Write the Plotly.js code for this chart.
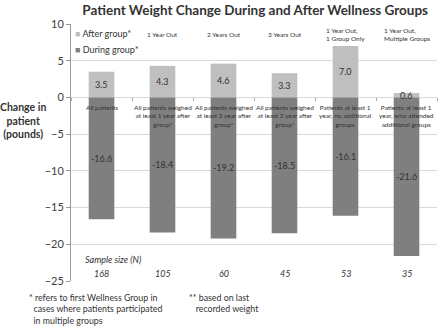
<!DOCTYPE html>
<html>
<head>
<meta charset="utf-8">
<script src="https://cdn.plot.ly/plotly-3.0.1.min.js"></script>
<style>html,body{margin:0;padding:0;background:#fff;}#chart{width:440px;height:326px;}</style>
</head>
<body>
<div id="chart"></div>
<script>
var categories = ["All patients", "1 year", "2 years", "3 years", "1 group only", "multiple groups"];
var afterGroup = [3.5, 4.3, 4.6, 3.3, 7.0, 0.6];
var duringGroup = [-16.6, -18.4, -19.2, -18.5, -16.1, -21.6];
var sampleSizes = [168, 105, 60, 45, 53, 35];
var seriesNames = ["After group*", "During group*"];
var categoryLabels = [
  "All patients",
  "All patients weighed<br>at least 1 year after<br>group*",
  "All patients weighed<br>at least 2 year after<br>group*",
  "All patients weighed<br>at least 3 year after<br>group*",
  "Patients at least 1<br>year, no additional<br>groups",
  "Patients at least 1<br>year, who attended<br>additional groups"
];
var topLabels = ["", "1 Year Out", "2 Years Out", "3 Years Out", "1 Year Out,<br>1 Group Only", "1 Year Out,<br>Multiple Groups"];
var yTicks = [10, 5, 0, -5, -10, -15, -20, -25];

var FONT = "Lato, 'Open Sans', sans-serif";
var TXT = "#333333";
var LIGHT = "#bfbfbf", DARK = "#7f7f7f";

var traces = [
  {type: "bar", name: seriesNames[0], x: categories, y: afterGroup,
   marker: {color: LIGHT}, hoverinfo: "none"},
  {type: "bar", name: seriesNames[1], x: categories, y: duringGroup,
   marker: {color: DARK}, hoverinfo: "none"}
];

var ann = [];
categories.forEach(function (c, i) {
  ann.push({x: c, y: afterGroup[i] / 2, xref: "x", yref: "y", text: afterGroup[i].toFixed(1),
    showarrow: false, font: {size: 9, color: TXT, family: FONT}});
  ann.push({x: c, y: duringGroup[i] / 2, xref: "x", yref: "y", text: duringGroup[i].toFixed(1),
    showarrow: false, font: {size: 9, color: TXT, family: FONT}});
  ann.push({x: c, y: 0, xref: "x", yref: "y", yanchor: "top", yshift: -5, text: categoryLabels[i],
    showarrow: false, font: {size: 6.5, color: TXT, family: FONT}});
  if (topLabels[i]) {
    ann.push({x: c, y: 8.6, xref: "x", yref: "y", yanchor: "middle", valign: "middle", text: topLabels[i],
      showarrow: false, align: "left", font: {size: 6.5, color: TXT, family: FONT}});
  }
  ann.push({x: c, y: 0.031, xref: "x", yref: "paper", yanchor: "middle", text: "<i>" + sampleSizes[i] + "</i>",
    showarrow: false, font: {size: 9, color: TXT, family: FONT}});
});
// legend as text annotations
ann.push({x: 0.005, y: 0.963, xref: "paper", yref: "paper", xanchor: "left", yanchor: "middle",
  text: "<span style='color:" + LIGHT + "'>■</span> " + seriesNames[0], showarrow: false,
  font: {size: 9, color: TXT, family: FONT}});
ann.push({x: 0.005, y: 0.901, xref: "paper", yref: "paper", xanchor: "left", yanchor: "middle",
  text: "<span style='color:" + DARK + "'>■</span> " + seriesNames[1], showarrow: false,
  font: {size: 9, color: TXT, family: FONT}});
ann.push({x: 0.033, y: 0.085, xref: "paper", yref: "paper", xanchor: "left", yanchor: "middle",
  text: "<i>Sample size (N)</i>", showarrow: false, font: {size: 9, color: TXT, family: FONT}});
ann.push({x: -0.12, y: -0.035, xref: "paper", yref: "paper", xanchor: "left", yanchor: "top", align: "left",
  text: "* refers to first Wellness Group in<br>&nbsp;&nbsp;cases where patients participated<br>&nbsp;&nbsp;in multiple groups",
  showarrow: false, font: {size: 8.8, color: TXT, family: FONT}});
ann.push({x: 0.317, y: -0.035, xref: "paper", yref: "paper", xanchor: "left", yanchor: "top", align: "left",
  text: "** based on last<br>&nbsp;&nbsp;&nbsp;recorded weight",
  showarrow: false, font: {size: 8.8, color: TXT, family: FONT}});
ann.push({x: -0.13, y: 0.625, xref: "paper", yref: "paper", xanchor: "center", yanchor: "middle", align: "center",
  text: "<b>Change in<br>patient<br>(pounds)</b>",
  showarrow: false, font: {size: 10.5, color: TXT, family: FONT}});

var layout = {
  width: 440, height: 326,
  margin: {l: 71, r: 3, t: 23.5, b: 45},
  paper_bgcolor: "#fff", plot_bgcolor: "#fff",
  barmode: "relative", bargap: 0.58,
  showlegend: false,
  title: {text: "<b>Patient Weight Change During and After Wellness Groups</b>",
    x: 0.58, xref: "container", xanchor: "center", y: 0.97, yref: "container", yanchor: "middle",
    font: {size: 13.5, color: TXT, family: FONT}},
  xaxis: {showticklabels: false, showgrid: false, zeroline: false, showline: false,
    anchor: "free", position: 25 / 35, ticks: "outside", tickson: "boundaries", ticklen: 3, tickcolor: "#aaa"},
  yaxis: {range: [-25, 10], tickvals: yTicks, showgrid: true, gridcolor: "#d9d9d9", gridwidth: 1,
    zeroline: false, showline: true, linecolor: "#999", ticks: "outside", ticklen: 4, tickcolor: "#999",
    tickfont: {size: 11, color: "#404040", family: FONT}},
  annotations: ann
};

Plotly.newPlot("chart", traces, layout, {displayModeBar: false, staticPlot: true});
</script>
</body>
</html>
